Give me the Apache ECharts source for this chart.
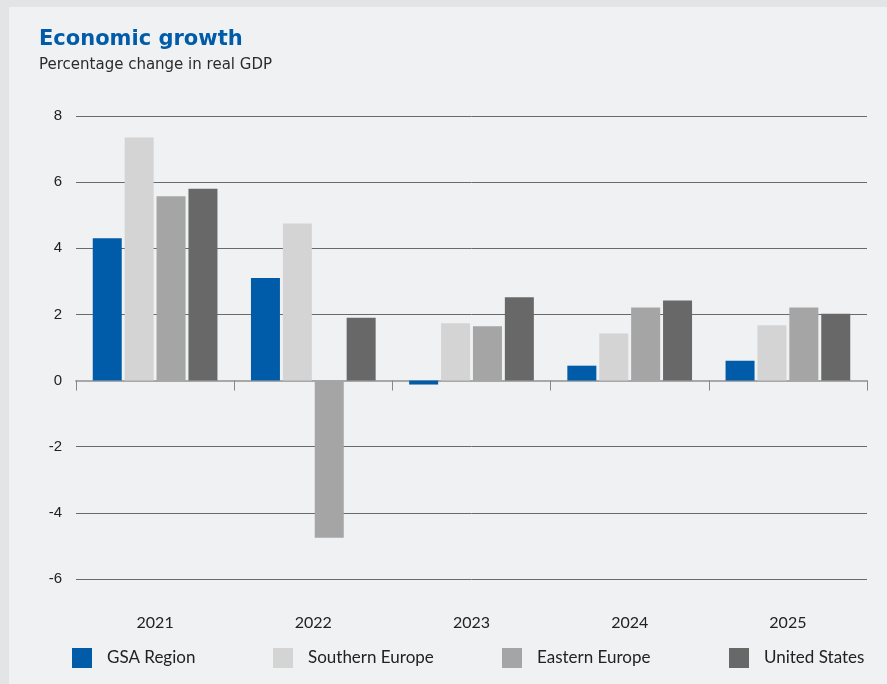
<!DOCTYPE html>
<html><head><meta charset="utf-8">
<script src="https://cdn.jsdelivr.net/npm/echarts@6/dist/echarts.min.js"></script>
<style>html,body{margin:0;padding:0;background:#e3e4e6}#c{width:887px;height:684px}</style>
</head><body><div id="c"></div>
<script>
var years = ['2021', '2022', '2023', '2024', '2025'];
var gsaRegion = [4.3, 3.1, -0.12, 0.45, 0.6];
var southernEurope = [7.35, 4.75, 1.73, 1.42, 1.67];
var easternEurope = [5.57, -4.75, 1.64, 2.21, 2.21];
var unitedStates = [5.8, 1.9, 2.52, 2.42, 2.02];
var yTicks = [-6, -4, -2, 0, 2, 4, 6, 8];

var names = ['GSA Region', 'Southern Europe', 'Eastern Europe', 'United States'];
var colors = ['#005ca8', '#d4d4d4', '#a5a5a5', '#686868'];
var values = [gsaRegion, southernEurope, easternEurope, unitedStates];
var legendLefts = [67, 268, 497, 724];
var font = 'Lato, "Open Sans", sans-serif';

var chart = echarts.init(document.getElementById('c'), null, {renderer: 'canvas'});
chart.setOption({
  backgroundColor: '#e3e4e6',
  animation: false,
  graphic: [{type: 'rect', left: 9, top: 7, shape: {width: 878, height: 677}, style: {fill: '#f0f1f3'}, z: -10}],
  title: {
    text: 'Economic growth', subtext: 'Percentage change in real GDP',
    left: 34, top: 24, itemGap: 8,
    textStyle: {color: '#005ca9', fontSize: 21, fontWeight: 'bold', fontFamily: '"DejaVu Sans", sans-serif'},
    subtextStyle: {color: '#2b2b2b', fontSize: 15, fontFamily: '"DejaVu Sans", sans-serif'}
  },
  legend: names.map(function (n, i) {
    return {data: [n], left: legendLefts[i], top: 643, itemWidth: 20, itemHeight: 20, icon: 'rect', itemGap: 15,
      textStyle: {color: '#222', fontSize: 17, fontFamily: font, padding: [3, 0, 0, 10]}};
  }),
  grid: {left: 76, right: 20, top: 116, bottom: 105, containLabel: false, outerBoundsMode: 'none'},
  xAxis: [{
    type: 'category', data: years,
    axisLine: {onZero: true, lineStyle: {color: '#a8a8a8', width: 2}},
    axisTick: {show: true, length: 10, lineStyle: {color: '#888', width: 1}},
    axisLabel: {show: false}
  }, {
    type: 'category', data: years, position: 'bottom',
    axisLine: {show: false, onZero: false}, axisTick: {show: false},
    axisLabel: {color: '#222', fontSize: 16, fontFamily: font, margin: 36}
  }],
  yAxis: {
    type: 'value', min: -6, max: 8, interval: 2,
    axisLine: {show: false}, axisTick: {show: false},
    axisLabel: {color: '#222', fontSize: 15, fontFamily: '"Liberation Sans", Arial, sans-serif', margin: 14,
      formatter: function (v) { return yTicks.indexOf(v) >= 0 ? String(v) : ''; }},
    splitLine: {lineStyle: {color: '#6a6a6a', width: 1}}
  },
  series: names.map(function (n, i) {
    return {name: n, type: 'bar', data: values[i], barWidth: 29, barGap: '10%',
      itemStyle: {color: colors[i]}};
  })
});
</script></body></html>
